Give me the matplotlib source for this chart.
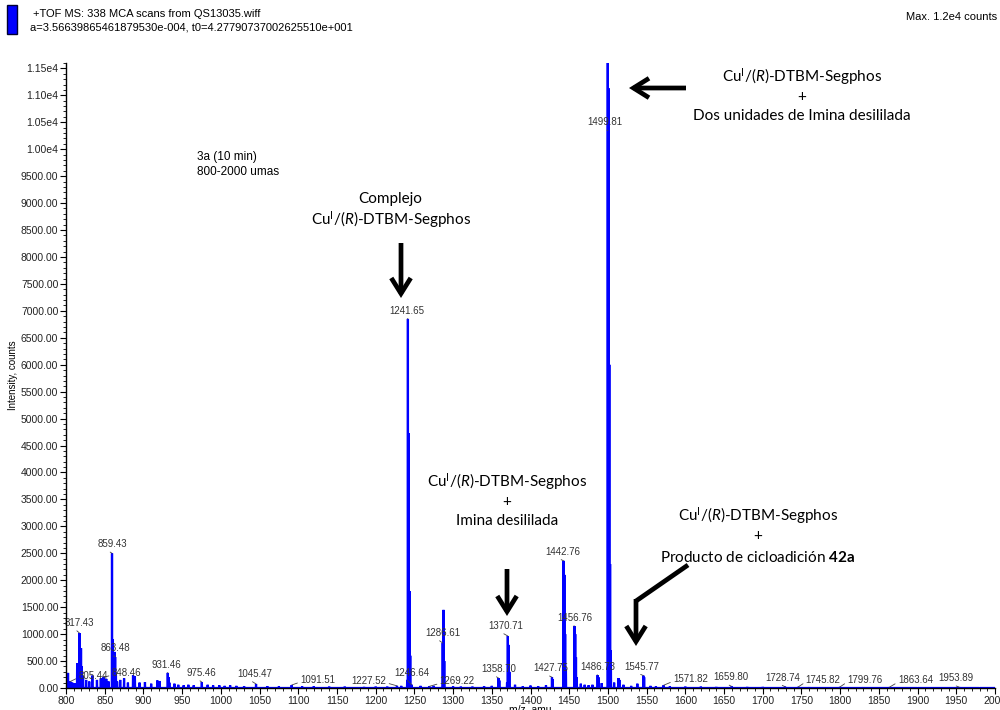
import matplotlib
matplotlib.use("Agg")
import matplotlib.pyplot as plt
from matplotlib.patches import Rectangle, FancyArrowPatch
from matplotlib.ticker import MultipleLocator, FuncFormatter
import numpy as np

plt.rcParams["font.family"] = ["Liberation Sans", "DejaVu Sans"]
plt.rcParams["mathtext.fontset"] = "custom"
plt.rcParams["mathtext.rm"] = "Lato"
plt.rcParams["mathtext.it"] = "Lato:italic"
plt.rcParams["mathtext.bf"] = "Lato:bold"

# ---- spectrum peaks (m/z, counts) ----
peak_mz = [
    802.6, 805.44, 808.0, 811.0, 814.4, 817.43, 819.4, 820.4, 822.0, 826.0,
    830.0, 834.0, 840.0, 845.0, 848.46, 852.0, 855.0, 859.43, 860.4, 861.4,
    862.5, 863.48, 864.5, 866.0, 870.0, 875.0, 880.0, 886.6, 889.0, 895.0,
    902.0, 910.0, 918.0, 921.0, 931.46, 932.5, 933.5, 940.0, 945.0, 952.0,
    958.0, 965.0, 975.46, 983.0, 990.0, 998.0, 1005.0, 1012.0, 1020.0, 1030.0,
    1045.47, 1060.0, 1075.0, 1091.51, 1105.0, 1120.0, 1140.0, 1160.0, 1185.0, 1200.0,
    1215.0, 1227.52, 1233.0, 1240.7, 1241.65, 1242.65, 1243.65, 1244.65, 1246.64, 1258.0,
    1269.22, 1275.0, 1286.61, 1287.61, 1288.6, 1300.0, 1310.0, 1325.0, 1340.0, 1350.0,
    1358.70, 1359.7, 1369.7, 1370.71, 1371.71, 1372.7, 1380.0, 1390.0, 1400.0, 1410.0,
    1420.0, 1427.75, 1428.75, 1442.76, 1443.76, 1444.76, 1445.76, 1456.76, 1457.76, 1458.76,
    1459.76, 1465.0, 1470.0, 1475.0, 1480.0, 1486.73, 1487.73, 1492.0, 1499.81, 1500.81,
    1501.81, 1502.81, 1503.8, 1508.0, 1513.8, 1514.8, 1520.0, 1530.0, 1538.0, 1545.77,
    1546.77, 1555.0, 1562.0, 1571.82, 1580.0, 1600.0, 1620.0, 1640.0, 1659.80, 1680.0,
    1700.0, 1728.74, 1745.82, 1760.0, 1799.76, 1830.0, 1863.64, 1900.0, 1953.89, 1980.0,
]
peak_int = [
    280, 120, 100, 90, 460, 1020, 740, 400, 200, 150,
    120, 230, 150, 180, 200, 170, 120, 2500, 900, 300,
    670, 575, 250, 120, 150, 180, 100, 240, 220, 100,
    110, 80, 140, 130, 280, 200, 100, 80, 60, 50,
    60, 50, 110, 60, 50, 50, 40, 50, 40, 35,
    75, 35, 30, 55, 30, 30, 25, 25, 20, 25,
    25, 40, 40, 150, 6850, 4730, 1800, 600, 60, 40,
    30, 40, 835, 1450, 500, 30, 25, 25, 35, 40,
    185, 140, 100, 965, 800, 300, 60, 30, 45, 30,
    50, 200, 160, 2360, 2100, 1000, 350, 1150, 1000, 570,
    200, 80, 60, 50, 60, 240, 200, 90, 11800, 11130,
    6000, 2300, 700, 100, 185, 150, 60, 40, 80, 230,
    200, 40, 30, 50, 30, 25, 25, 20, 30, 20,
    20, 25, 20, 15, 20, 15, 15, 12, 15, 10,
]

# ---- labelled peaks: m/z, counts at label point, label offset (px) ----
label_mz = [805.44, 817.43, 848.46, 859.43, 863.48, 931.46, 975.46, 1045.47,
            1091.51, 1227.52, 1241.65, 1246.64, 1269.22, 1286.61, 1358.70,
            1370.71, 1427.75, 1442.76, 1456.76, 1486.73, 1499.81, 1545.77,
            1571.82, 1659.80, 1728.74, 1745.82, 1799.76, 1863.64, 1953.89]
label_int = [120, 1020, 200, 2500, 575, 280, 110, 75,
             55, 40, 6850, 60, 30, 835, 185,
             965, 200, 2360, 1150, 240, 10350, 230,
             50, 30, 25, 20, 20, 15, 15]
label_dx = [23, 0, 23, 0, 0, -1, 0, -1,
            26, -28, -1, 0, 28, 0, 0,
            -2, -1, -1, 0, 0, -3, -2,
            27, -1, -2, 25, 25, 26, -3]
label_dy = [6, 10, 4, 9, 9, 8, 9, 10,
            5, 5, 8, 12, 5, 10, 9,
            10, 9, 9, 8, 8, 8, 9,
            6, 9, 9, 7, 7, 7, 9]

y_ticks = np.arange(0, 11501, 500)

# ---- build the profile trace ----
order = np.argsort(peak_mz)
mz_sorted = np.array(peak_mz)[order]
int_sorted = np.array(peak_int)[order]
half = 0.25
trace_x = [800.0]
trace_y = [0.0]
for m, v in zip(mz_sorted, int_sorted):
    trace_x += [m - half, m, m + half]
    trace_y += [0.0, v, 0.0]
trace_x.append(2000.0)
trace_y.append(0.0)

W, H = 1000, 710
fig = plt.figure(figsize=(W / 100, H / 100), dpi=100)
ax = fig.add_axes([66 / W, 1 - 688 / H, 929 / W, 625 / H])

blue = "#0000FF"
ax.plot(trace_x, trace_y, color=blue, lw=1.6, solid_joinstyle="miter")
ax.fill_between(trace_x, trace_y, 0, color=blue, lw=0)

ax.set_xlim(800, 2000)
ax.set_ylim(0, 11600)
for s in ["top", "right"]:
    ax.spines[s].set_visible(False)
for s in ["left", "bottom"]:
    ax.spines[s].set_linewidth(1.0)
    ax.spines[s].set_zorder(3)

ax.xaxis.set_major_locator(MultipleLocator(50))
ax.xaxis.set_minor_locator(MultipleLocator(10))
ax.set_yticks(y_ticks)
ax.yaxis.set_minor_locator(MultipleLocator(100))


def yfmt(v, _):
    if v >= 10000:
        return f"{v / 1e4:.2f}e4"
    return f"{v:.2f}"


ax.yaxis.set_major_formatter(FuncFormatter(yfmt))
ax.tick_params(axis="both", which="major", labelsize=7.5, length=4, width=0.8,
               direction="out", pad=1.5, colors="black", labelcolor="#222222")
ax.tick_params(axis="both", which="minor", length=2, width=0.6, direction="out")

ax.set_ylabel("Intensity, counts", fontsize=7)
ax.yaxis.set_label_coords(-48 / 929, 0.5)
fig.text(530 / W, 1 - 704 / H, "m/z, amu", fontsize=7.5, ha="center", va="top")

# ---- peak labels with leader lines ----
for m, v, dx, dy in zip(label_mz, label_int, label_dx, label_dy):
    if dx > 15:
        rel = (0.0, 0.3)
    elif dx < -15:
        rel = (1.0, 0.3)
    else:
        rel = (0.3, 0.0)
    ax.annotate(f"{m:.2f}", xy=(m, v), xytext=(dx, dy), textcoords="offset pixels",
                ha="center", va="center", fontsize=7, color="#333333",
                arrowprops=dict(arrowstyle="-", color="#444444", lw=0.6,
                                relpos=rel, shrinkA=0, shrinkB=0))


# ---- header ----
def fx(px):
    return px / W


def fy(py):
    return 1 - py / H


fig.patches.append(Rectangle((fx(7), fy(34)), 10 / W, 29 / H, transform=fig.transFigure,
                             facecolor=blue, edgecolor="#000033", lw=1.0))
fig.text(fx(33), fy(14), "+TOF MS: 338 MCA scans from QS13035.wiff", fontsize=8,
         va="center", ha="left")
fig.text(fx(30), fy(27), "a=3.56639865461879530e-004, t0=4.27790737002625510e+001",
         fontsize=8, va="center", ha="left")
fig.text(fx(906), fy(17), "Max. 1.2e4 counts", fontsize=8, va="center", ha="left")
fig.text(fx(197), fy(157), "3a (10 min)", fontsize=8.5, va="center", ha="left")
fig.text(fx(197), fy(172), "800-2000 umas", fontsize=8.5, va="center", ha="left")

# ---- assignment notes ----
cu = r"Cu$^{\mathrm{I}}$/($\mathit{R}$)-DTBM-Segphos"
note_kw = dict(fontsize=11, family="Lato", ha="center", va="center")
fig.text(fx(390), fy(199), "Complejo", **note_kw)
fig.text(fx(391), fy(220), cu, **note_kw)

fig.text(fx(802), fy(77), cu, **note_kw)
fig.text(fx(802), fy(97), "+", **note_kw)
fig.text(fx(802), fy(116), "Dos unidades de Imina desililada", **note_kw)

fig.text(fx(507), fy(482), cu, **note_kw)
fig.text(fx(507), fy(502), "+", **note_kw)
fig.text(fx(507), fy(521), "Imina desililada", **note_kw)

fig.text(fx(758), fy(516), cu, **note_kw)
fig.text(fx(758), fy(536), "+", **note_kw)
fig.text(fx(758), fy(557), r"Producto de cicloadición $\mathbf{42a}$", **note_kw)

arrow_kw = dict(arrowstyle="->,head_length=0.8,head_width=0.5", color="black",
                lw=3.4, shrinkA=0, shrinkB=0, joinstyle="miter", capstyle="butt")


def arrow(x0, y0, x1, y1):
    fig.add_artist(FancyArrowPatch(
        (fx(x0), fy(y0)), (fx(x1), fy(y1)), transform=fig.transFigure,
        mutation_scale=14, **arrow_kw))


arrow(401, 243, 401, 298)
arrow(686, 88, 629, 88)
arrow(507, 569, 507, 616)
fig.add_artist(plt.Line2D([fx(688), fx(636)], [fy(565), fy(601)],
                          transform=fig.transFigure, color="black", lw=3.4,
                          solid_capstyle="butt", solid_joinstyle="miter"))
arrow(636, 599, 636, 646)

fig.savefig("out.png", dpi=100)
